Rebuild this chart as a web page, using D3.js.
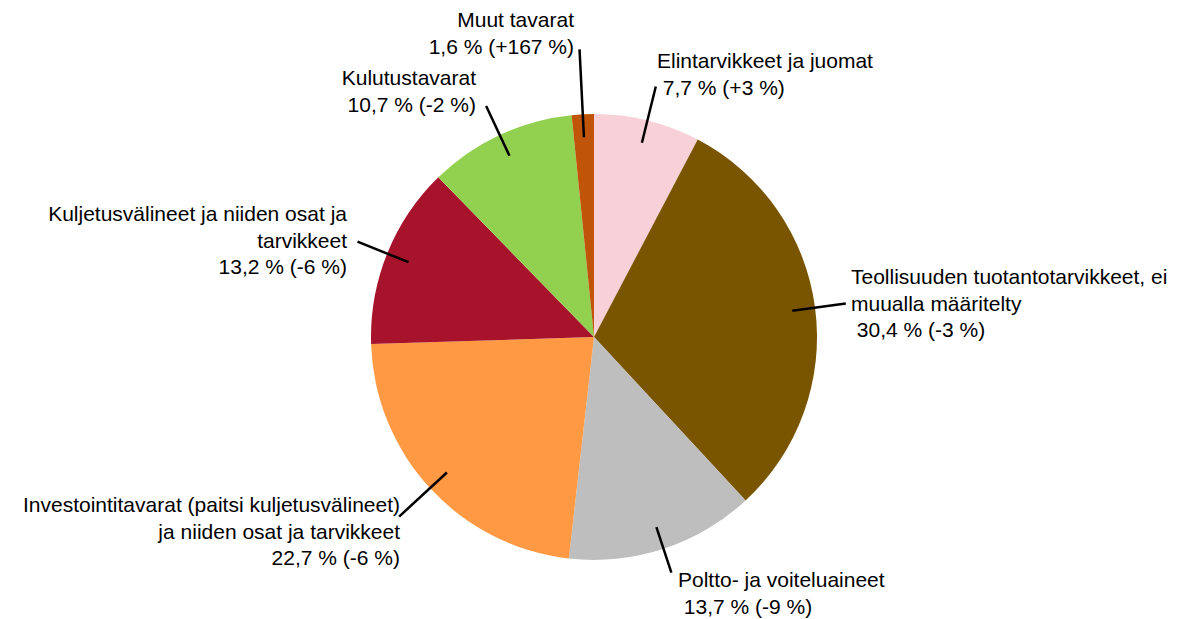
<!DOCTYPE html>
<html>
<head>
<meta charset="utf-8">
<script src="https://cdn.jsdelivr.net/npm/d3@7"></script>
<style>
  body { margin: 0; background: #fff; }
  text { font-family: "Liberation Sans", Arial, sans-serif; font-size: 21px; fill: #000; white-space: pre; }
</style>
</head>
<body>
<div id="chart-area"></div>
<script>
// tuontiosuudet tavararyhmittäin, % ja muutos edellisestä vuodesta
var categories = [
  "Elintarvikkeet ja juomat",
  "Teollisuuden tuotantotarvikkeet, ei muualla määritelty",
  "Poltto- ja voiteluaineet",
  "Investointitavarat (paitsi kuljetusvälineet) ja niiden osat ja tarvikkeet",
  "Kuljetusvälineet ja niiden osat ja tarvikkeet",
  "Kulutustavarat",
  "Muut tavarat"
];
var shares = [7.7, 30.4, 13.7, 22.7, 13.2, 10.7, 1.6];
var changes = ["+3", "-3", "-9", "-6", "-6", "-2", "+167"];
var colors = ["#F8D0D8", "#7A5500", "#BEBEBE", "#FF9944", "#A8132C", "#92D050", "#C0550A"];

// label layout (line breaks, anchor, text position, leader length)
var labelLayout = [
  { lines: ["Elintarvikkeet ja juomat"], pctPrefix: " ", anchor: "start", x: 657, y: 68, lead: 258 },
  { lines: ["Teollisuuden tuotantotarvikkeet, ei", "muualla määritelty"], pctPrefix: " ", anchor: "start", x: 851, y: 284, lead: 254 },
  { lines: ["Poltto- ja voiteluaineet"], pctPrefix: " ", anchor: "start", x: 678, y: 587, lead: 248 },
  { lines: ["Investointitavarat (paitsi kuljetusvälineet)", "ja niiden osat ja tarvikkeet"], pctPrefix: "", anchor: "end", x: 400, y: 512, lead: 265 },
  { lines: ["Kuljetusvälineet ja niiden osat ja", "tarvikkeet"], pctPrefix: "", anchor: "end", x: 347, y: 221, lead: 255 },
  { lines: ["Kulutustavarat"], pctPrefix: "", anchor: "end", x: 476, y: 85, lead: 255 },
  { lines: ["Muut tavarat"], pctPrefix: "", anchor: "end", x: 574, y: 27, lead: 288 }
];

var width = 1178, height = 619;
var cx = 594, cy = 337, radius = 223;
var lineHeight = 26.6;

var svg = d3.select("#chart-area").append("svg")
  .attr("width", width)
  .attr("height", height);

var g = svg.append("g").attr("transform", "translate(" + cx + "," + cy + ")");

var data = categories.map(function(c, i) {
  return { name: c, share: shares[i], change: changes[i], color: colors[i], layout: labelLayout[i] };
});

var pie = d3.pie()
  .sort(null)
  .value(function(d) { return d.share; });

var arc = d3.arc().innerRadius(0).outerRadius(radius);

var arcs = pie(data);

g.selectAll("path.slice")
  .data(arcs)
  .enter()
  .append("path")
    .attr("class", "slice")
    .attr("d", arc)
    .style("fill", function(d) { return d.data.color; });

// leader lines: from inside slice outwards along mid angle
function pointAt(d, r) {
  var a = (d.startAngle + d.endAngle) / 2;
  return [Math.sin(a) * r, -Math.cos(a) * r];
}

g.selectAll("line.leader")
  .data(arcs)
  .enter()
  .append("line")
    .attr("class", "leader")
    .attr("x1", function(d) { return pointAt(d, 200)[0]; })
    .attr("y1", function(d) { return pointAt(d, 200)[1]; })
    .attr("x2", function(d) { return pointAt(d, d.data.layout.lead)[0]; })
    .attr("y2", function(d) { return pointAt(d, d.data.layout.lead)[1]; })
    .style("stroke", "#000")
    .style("stroke-width", 2.5);

var labels = svg.selectAll("text.label")
  .data(data)
  .enter()
  .append("text")
    .attr("class", "label")
    .attr("text-anchor", function(d) { return d.layout.anchor; });

labels.each(function(d) {
  var t = d3.select(this);
  var lines = d.layout.lines.concat([d.layout.pctPrefix + String(d.share).replace(".", ",") + " % (" + d.change + " %)"]);
  lines.forEach(function(l, i) {
    t.append("tspan")
      .attr("x", d.layout.x)
      .attr("y", d.layout.y + i * lineHeight)
      .text(l);
  });
});
</script>
</body>
</html>
